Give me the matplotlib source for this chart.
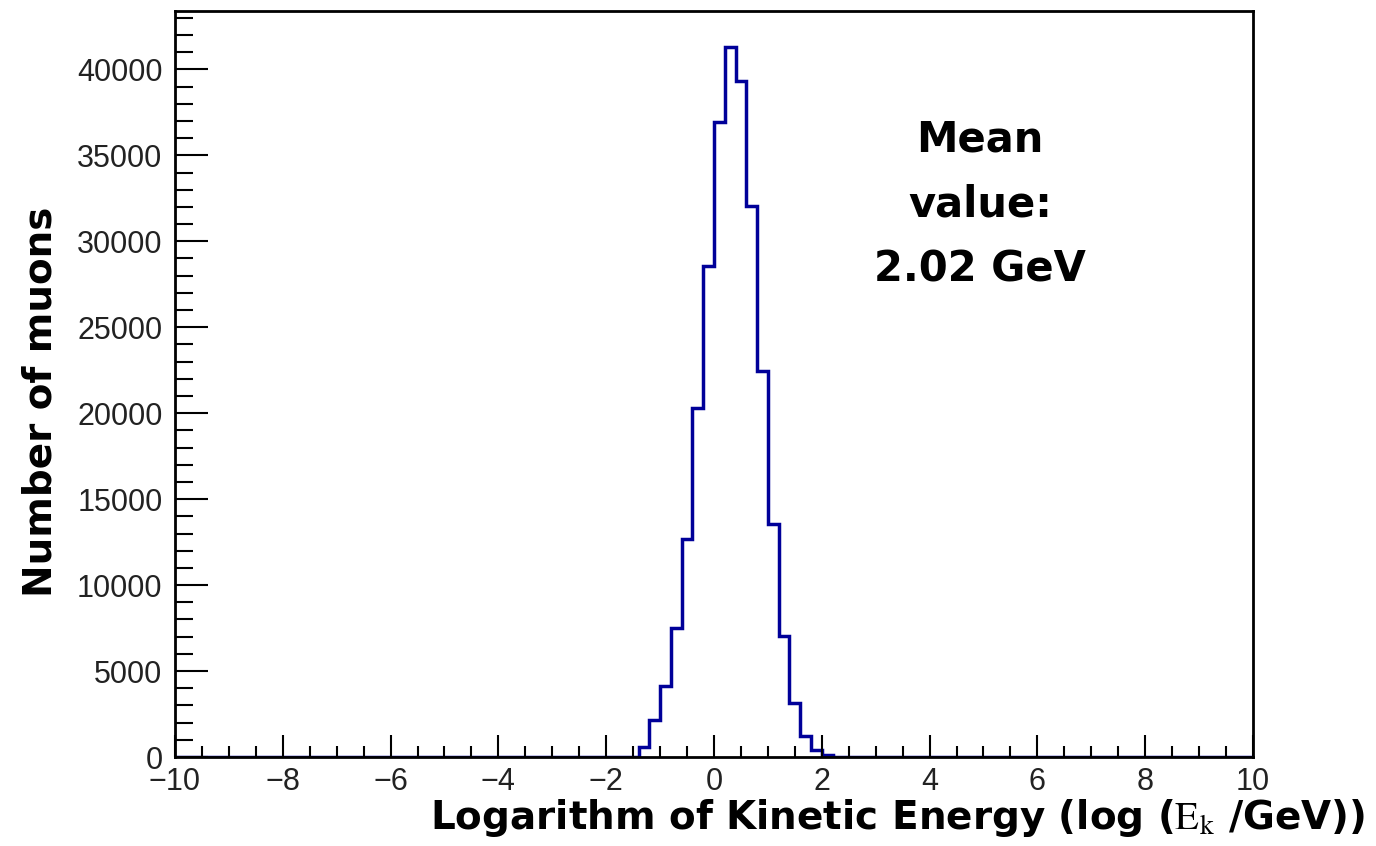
import matplotlib
matplotlib.use("Agg")
import matplotlib.pyplot as plt
from matplotlib.ticker import MultipleLocator
import numpy as np

plt.rcParams['mathtext.fontset'] = 'stix'

# histogram binning: 100 bins of 0.2 over [-10, 10]
x_min, x_max, n_bins = -10, 10, 100
# filled bins start at log(Ek/GeV) = -1.4, everything else is empty
first_filled = -1.4
filled_counts = [600, 2140, 4115, 7485, 12700, 20300, 28560, 36960, 41330,
                 39320, 32030, 22470, 13560, 7020, 3145, 1250, 410, 110]
mean_text = "Mean\nvalue:\n2.02 GeV"

edges = np.linspace(x_min, x_max, n_bins + 1)
counts = np.zeros(n_bins)
start = int(round((first_filled - x_min) / (edges[1] - edges[0])))
counts[start:start + len(filled_counts)] = filled_counts

fig = plt.figure(figsize=(13.76, 8.46), dpi=100)
ax = fig.add_axes([175 / 1376, 89 / 846, 1078 / 1376, 746 / 846])

ax.stairs(counts, edges, color='#000099', linewidth=2.5, zorder=1)

ax.set_xlim(x_min, x_max)
ax.set_ylim(0, 1.05 * counts.max())

ax.xaxis.set_major_locator(MultipleLocator(2))
ax.xaxis.set_minor_locator(MultipleLocator(0.5))
ax.yaxis.set_major_locator(MultipleLocator(5000))
ax.yaxis.set_minor_locator(MultipleLocator(1000))

ax.tick_params(axis='both', which='both', direction='in', top=False, right=False,
               width=1.5, color='black')
ax.tick_params(axis='x', which='major', length=16, pad=7)
ax.tick_params(axis='x', which='minor', length=8)
ax.tick_params(axis='y', which='major', length=24, pad=9)
ax.tick_params(axis='y', which='minor', length=13)

for lab in ax.get_xticklabels() + ax.get_yticklabels():
    lab.set_fontfamily('Liberation Sans')
    lab.set_fontsize(22)
    lab.set_color('#222222')

for sp in ax.spines.values():
    sp.set_linewidth(2)
    sp.set_zorder(3)

fig.text(1365 / 1376, 1 - 818 / 846,
         r"Logarithm of Kinetic Energy (log ($\mathrm{E}_\mathrm{k}$ /GeV))",
         ha='right', va='center', fontsize=28, fontweight='bold',
         family='DejaVu Sans')
fig.text(41 / 1376, 1 - 402 / 846, "Number of muons", rotation=90,
         ha='center', va='center', fontsize=28, fontweight='bold',
         family='DejaVu Sans')

ax.text(0.747, 0.741, mean_text,
        transform=ax.transAxes, ha='center', va='center', multialignment='center',
        fontsize=30, fontweight='bold', family='DejaVu Sans', linespacing=1.7)

fig.savefig("out.png", dpi=100)
